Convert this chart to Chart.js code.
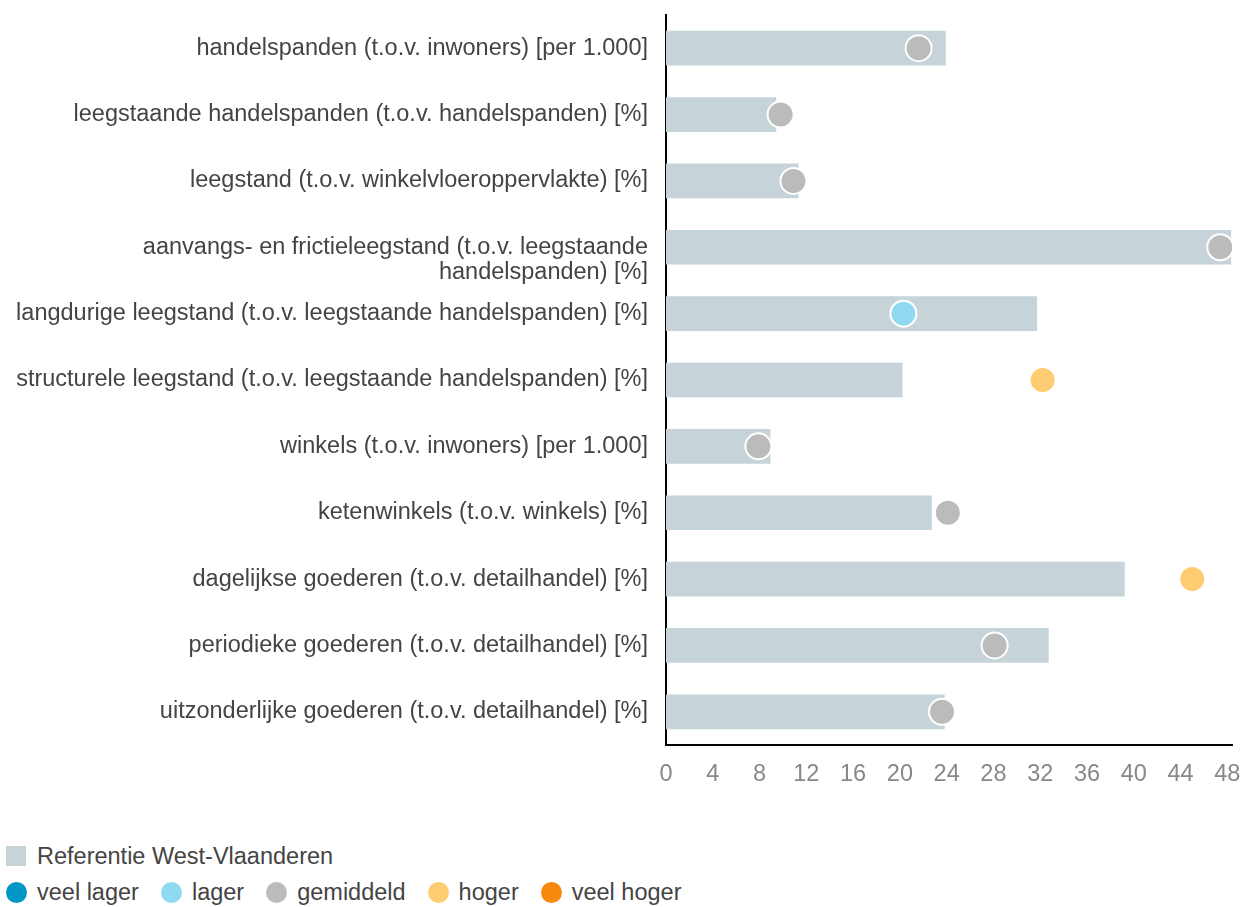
<!DOCTYPE html>
<html>
<head>
<meta charset="utf-8">
<script src="https://cdn.jsdelivr.net/npm/chart.js@4"></script>
<style>
  body { margin: 0; background: #fff; font-family: "Liberation Sans", Arial, sans-serif; }
  #wrap { position: relative; width: 1247px; height: 790px; }
  #legend { position: absolute; left: 6px; top: 843px; color: #444; font-size: 23.5px; }
  .row { display: flex; align-items: center; height: 26px; margin-bottom: 10px; white-space: nowrap; }
  .item { display: flex; align-items: center; margin-right: 22px; }
  .sq { width: 20px; height: 20px; margin-right: 11px; }
  .dot { width: 21px; height: 21px; border-radius: 50%; margin-right: 10px; }
</style>
</head>
<body>
<div id="wrap"><canvas id="chart" width="1247" height="790"></canvas></div>
<div id="legend"></div>
<script>
const labels = [
  'handelspanden (t.o.v. inwoners) [per 1.000]',
  'leegstaande handelspanden (t.o.v. handelspanden) [%]',
  'leegstand (t.o.v. winkelvloeroppervlakte) [%]',
  ['', 'aanvangs- en frictieleegstand (t.o.v. leegstaande', 'handelspanden) [%]'],
  'langdurige leegstand (t.o.v. leegstaande handelspanden) [%]',
  'structurele leegstand (t.o.v. leegstaande handelspanden) [%]',
  'winkels (t.o.v. inwoners) [per 1.000]',
  'ketenwinkels (t.o.v. winkels) [%]',
  'dagelijkse goederen (t.o.v. detailhandel) [%]',
  'periodieke goederen (t.o.v. detailhandel) [%]',
  'uitzonderlijke goederen (t.o.v. detailhandel) [%]'
];
// referentie West-Vlaanderen (bars)
const reference = [23.9, 9.4, 11.3, 48.3, 31.7, 20.2, 8.9, 22.7, 39.2, 32.7, 23.8];
// gemeente (points)
const values = [21.6, 9.8, 10.9, 47.4, 20.3, 32.2, 7.9, 24.1, 45.0, 28.1, 23.6];
const classes = ['gemiddeld', 'gemiddeld', 'gemiddeld', 'gemiddeld', 'lager', 'hoger',
  'gemiddeld', 'gemiddeld', 'hoger', 'gemiddeld', 'gemiddeld'];

const classNames = ['veel lager', 'lager', 'gemiddeld', 'hoger', 'veel hoger'];
const classColors = ['#0096c6', '#8fd9f1', '#bbbbbb', '#ffcd71', '#f7890c'];
const refLabel = 'Referentie West-Vlaanderen';
const refColor = '#c6d4da';

const FONT = '"Liberation Sans", Arial, sans-serif';
const colorOf = c => classColors[classNames.indexOf(c)];

new Chart(document.getElementById('chart'), {
  data: {
    labels: labels,
    datasets: [
      {
        type: 'scatter',
        label: 'gemeente',
        data: values.map((v, i) => ({ x: v, y: i })),
        pointRadius: 13,
        pointHoverRadius: 13,
        pointBorderWidth: 2,
        pointBorderColor: '#fff',
        pointBackgroundColor: classes.map(colorOf),
        order: 0
      },
      {
        type: 'bar',
        label: refLabel,
        data: reference,
        backgroundColor: refColor,
        barThickness: 34,
        order: 1
      }
    ]
  },
  options: {
    indexAxis: 'y',
    responsive: false,
    animation: false,
    layout: { padding: { top: 14, right: 10, left: 0, bottom: 0 } },
    plugins: { legend: { display: false }, tooltip: { enabled: false } },
    scales: {
      x: {
        type: 'linear',
        min: 0,
        max: 48.4,
        grid: { display: false, drawTicks: false },
        border: { display: true, color: '#000', width: 2 },
        ticks: { stepSize: 4, includeBounds: false, padding: 15, color: '#888',
          font: { family: FONT, size: 23.5 } },
        afterFit: s => { s.height = 45; s.paddingLeft = 0; s.paddingRight = 0; }
      },
      y: {
        type: 'category',
        grid: { display: false, drawTicks: false },
        border: { display: true, color: '#000', width: 2 },
        ticks: { padding: 18, color: '#444', autoSkip: false,
          font: { family: FONT, size: 23.5, lineHeight: 1.07 } },
        afterFit: s => { s.width = 666; s.paddingTop = 0; s.paddingBottom = 0; }
      }
    }
  }
});

// legend
const legend = document.getElementById('legend');
legend.innerHTML =
  '<div class="row"><div class="item"><span class="sq" style="background:' + refColor + '"></span>' + refLabel + '</div></div>' +
  '<div class="row">' + classNames.map((n, i) =>
    '<div class="item"><span class="dot" style="background:' + classColors[i] + '"></span>' + n + '</div>').join('') +
  '</div>';
</script>
</body>
</html>
